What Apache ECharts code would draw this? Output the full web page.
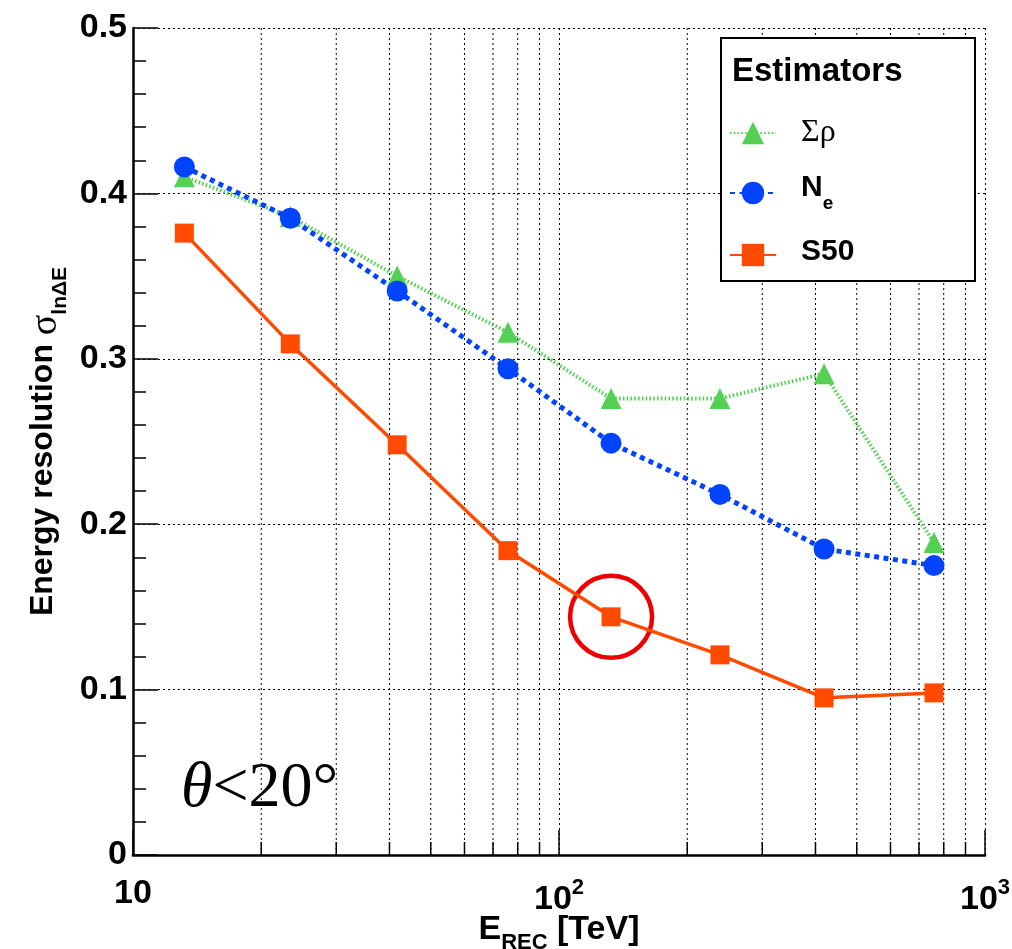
<!DOCTYPE html>
<html>
<head>
<meta charset="utf-8">
<script src="https://cdn.jsdelivr.net/npm/echarts@6/dist/echarts.min.js"></script>
<style>
  html, body { margin: 0; padding: 0; background: #fff; }
  #chart { width: 1012px; height: 949px; }
</style>
</head>
<body>
<div id="chart"></div>
<script>
// reconstructed energy (TeV)
var energies = [13.2, 23.4, 41.7, 75.9, 132.5, 238.7, 419, 759];
// resolution per estimator
var sumRho = [0.410, 0.386, 0.350, 0.316, 0.276, 0.276, 0.291, 0.189];
var nE = [0.416, 0.385, 0.341, 0.294, 0.249, 0.218, 0.185, 0.175];
var s50 = [0.376, 0.309, 0.248, 0.184, 0.144, 0.121, 0.095, 0.098];
// log minor ticks on the energy axis
var minorTicks = [20, 30, 40, 50, 60, 70, 80, 90, 200, 300, 400, 500, 600, 700, 800, 900];
var highlightIndex = 4;

var FONT = 'Liberation Sans, Arial, Helvetica, sans-serif';
var SERIF = 'Liberation Serif, Times New Roman, serif';

function pairs(ys) {
  return energies.map(function (e, i) { return [e, ys[i]]; });
}

// rich text helpers: main text hangs from the top, subscript sits on the bottom
function mainStyle(size, lh, extra) {
  var s = { fontFamily: FONT, fontSize: size, fontWeight: 'bold', color: '#000', lineHeight: lh, verticalAlign: 'top' };
  for (var k in extra) s[k] = extra[k];
  return s;
}

var legendNames = {
  'sumrho': '{g|Σρ}',
  'ne': '{b|N}{sub|e}',
  's50': '{b|S50}'
};

var chart = echarts.init(document.getElementById('chart'));

var option = {
  backgroundColor: '#fff',
  animation: false,
  grid: { left: 133, right: 27, top: 28, bottom: 94, containLabel: false, outerBoundsMode: 'none' },
  title: [
    {
      text: 'Estimators', left: 727, top: 50,
      textStyle: { fontFamily: FONT, fontSize: 33, fontWeight: 'bold', color: '#000' }
    },
    {
      text: '{i|θ}{n|<20°}', left: 176, top: 752,
      textStyle: {
        fontWeight: 'normal',
        rich: {
          i: { fontFamily: SERIF, fontSize: 64, fontStyle: 'italic', fontWeight: 'normal', color: '#000' },
          n: { fontFamily: SERIF, fontSize: 64, fontWeight: 'normal', color: '#000' }
        }
      }
    }
  ],
  graphic: [{
    type: 'rect', z: 3,
    shape: { x: 721, y: 38, width: 254, height: 243 },
    style: { fill: '#fff', stroke: '#000', lineWidth: 2 }
  }],
  legend: {
    orient: 'vertical', left: 729, top: 117, z: 5,
    padding: 0, itemGap: 24, itemWidth: 46, itemHeight: 28,
    data: ['sumrho', 'ne', 's50'],
    formatter: function (name) { return legendNames[name]; },
    textStyle: {
      padding: [0, 0, 0, 20],
      rich: {
        g: { fontFamily: SERIF, fontSize: 32, color: '#000', lineHeight: 44, verticalAlign: 'middle' },
        b: mainStyle(30, 36, {}),
        sub: mainStyle(19, 40, { verticalAlign: 'bottom' })
      }
    }
  },
  xAxis: {
    type: 'log', logBase: 10, min: 10, max: 1000,
    name: '{b|E}{sub|REC}{b| [TeV]}',
    nameLocation: 'middle', nameGap: 58, nameMoveOverlap: false,
    nameTextStyle: {
      rich: {
        b: mainStyle(34, 36, {}),
        sub: mainStyle(22, 41, { verticalAlign: 'bottom' })
      }
    },
    axisLine: { show: true, lineStyle: { color: '#000', width: 2.5 } },
    axisTick: { show: true, inside: true, length: 25, lineStyle: { color: '#000', width: 1.5 } },
    axisLabel: {
      margin: 22,
      formatter: function (v) {
        var p = Math.round(Math.log(v) / Math.LN10);
        if (p === 1) return '{n|10}';
        return '{n|10}{sup|' + p + '}';
      },
      rich: {
        n: mainStyle(34, 34, { verticalAlign: 'bottom' }),
        sup: mainStyle(22, 40, {})
      }
    },
    splitLine: { show: true, lineStyle: { color: '#000', width: 1, type: [2, 3] } }
  },
  yAxis: {
    type: 'value', min: 0, max: 0.5, interval: 0.1,
    name: '{b|Energy resolution }{s|σ}{sub|lnΔE}',
    nameLocation: 'middle', nameRotate: 90, nameGap: 62, nameMoveOverlap: false,
    nameTextStyle: {
      rich: {
        b: mainStyle(32, 34, {}),
        s: { fontFamily: SERIF, fontSize: 38, color: '#000', lineHeight: 36, verticalAlign: 'top' },
        sub: mainStyle(21, 44, { verticalAlign: 'bottom' })
      }
    },
    axisLine: { show: true, lineStyle: { color: '#000', width: 2.5 } },
    axisTick: { show: true, inside: true, length: 25, lineStyle: { color: '#000', width: 1.5 } },
    minorTick: { show: true, splitNumber: 5, length: 13, lineStyle: { color: '#000', width: 1.5 } },
    axisLabel: {
      margin: 6, color: '#000',
      fontFamily: FONT, fontSize: 34, fontWeight: 'bold'
    },
    splitLine: { show: true, lineStyle: { color: '#000', width: 1, type: [2, 3] } }
  },
  series: [
    {
      // minor log gridlines + ticks
      type: 'custom', silent: true, z: 1,
      data: minorTicks.map(function (v) { return [v, 0]; }),
      renderItem: function (params, api) {
        var x = api.coord([api.value(0), 0])[0];
        var yb = api.coord([api.value(0), 0])[1];
        var yt = api.coord([api.value(0), 0.5])[1];
        return {
          type: 'group',
          children: [
            { type: 'line', shape: { x1: x, y1: yt, x2: x, y2: yb },
              style: { stroke: '#000', lineWidth: 1, lineDash: [2, 3] } },
            { type: 'line', shape: { x1: x, y1: yb, x2: x, y2: yb - 13 },
              style: { stroke: '#000', lineWidth: 1.5 } }
          ]
        };
      }
    },
    {
      name: 'sumrho', type: 'line', z: 4,
      data: pairs(sumRho),
      symbol: 'triangle', symbolSize: 21,
      itemStyle: { color: '#55d055' },
      lineStyle: { color: '#55d055', width: 4, type: [1.6, 2.2] }
    },
    {
      name: 'ne', type: 'line', z: 5,
      data: pairs(nE),
      symbol: 'circle', symbolSize: 21,
      itemStyle: { color: '#0044ff' },
      lineStyle: { color: '#0044ff', width: 5, type: [5, 4.5] }
    },
    {
      name: 's50', type: 'line', z: 6,
      data: pairs(s50),
      symbol: 'rect', symbolSize: 19,
      itemStyle: { color: '#ff4a00' },
      lineStyle: { color: '#ff4a00', width: 3.5 },
      markPoint: {
        silent: true,
        symbol: 'circle', symbolSize: 82,
        label: { show: false },
        itemStyle: { color: 'rgba(0,0,0,0)', borderColor: '#ee0000', borderWidth: 4.5 },
        data: [{ coord: [energies[highlightIndex], s50[highlightIndex]] }]
      }
    }
  ]
};

chart.setOption(option);
window.addEventListener('resize', function () {
  chart.resize();
});
</script>
</body>
</html>
